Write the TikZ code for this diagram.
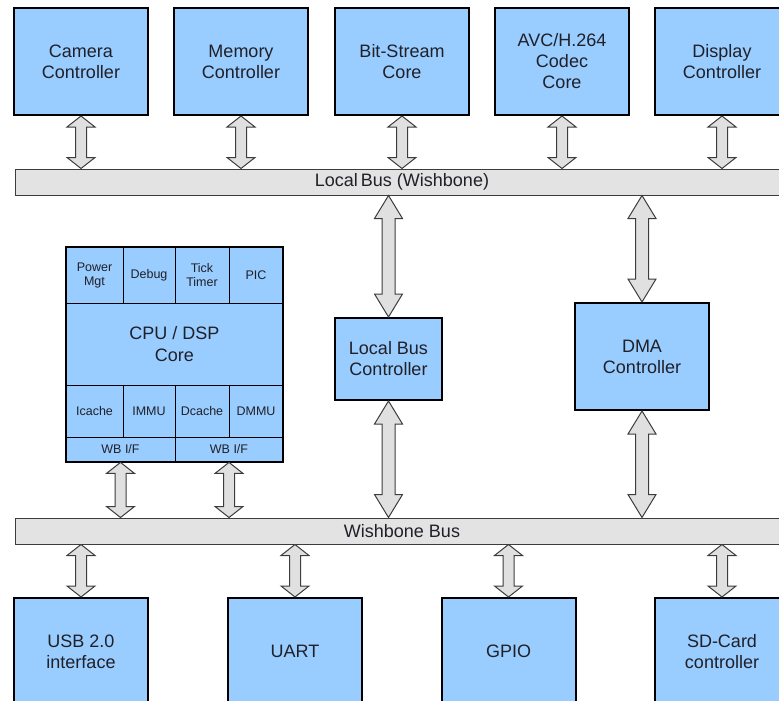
\documentclass[tikz,border=0pt]{standalone}
\usepackage{fontspec}
\setmainfont{Liberation Sans}
\usetikzlibrary{calc}
\definecolor{boxblue}{HTML}{99CCFF}
\definecolor{busgray}{HTML}{E3E3E3}
\definecolor{arrowgray}{HTML}{E0E0E0}
\definecolor{edgegray}{HTML}{3C3C3C}
\definecolor{txt}{HTML}{202028}
\tikzset{
  block/.style={draw=black, line width=2pt, fill=boxblue, inner sep=0pt,
    align=center, text=txt, font=\fontsize{18}{21}\selectfont},
  cell/.style={draw=black, line width=0.8pt, fill=boxblue, inner sep=0pt,
    align=center, text=txt, font=\fontsize{12.5}{14}\selectfont},
  corecell/.style={cell, font=\fontsize{18}{22}\selectfont},
  bus/.style={draw=edgegray, line width=1pt, fill=busgray, inner sep=0pt,
    text=txt, font=\fontsize{18}{20}\selectfont},
  busarrow/.style={draw=edgegray, line width=1pt, fill=arrowgray, line join=miter}
}
% wide double-headed bus arrow between two points (top first)
% #3 = head length, #4 = half width of the shaft
\newcommand\fatarrow[4]{%
  \draw[busarrow] let \p1=#1, \p2=#2 in
    (\x1,\y1) -- (\x1+14pt,\y1-#3pt) -- (\x1+#4pt,\y1-#3pt)
    -- (\x1+#4pt,\y2+#3pt) -- (\x1+14pt,\y2+#3pt) -- (\x1,\y2)
    -- (\x1-14pt,\y2+#3pt) -- (\x1-#4pt,\y2+#3pt)
    -- (\x1-#4pt,\y1-#3pt) -- (\x1-14pt,\y1-#3pt) -- cycle;}
\begin{document}
\begin{tikzpicture}[x=1pt,y=-1pt]
\useasboundingbox (0,0) rectangle (779,701);
\clip (0,0) rectangle (779,701);

% peripheral cores on the local bus
\node[block, minimum width=134pt, minimum height=107pt] (cam) at (81,61.5) {Camera\\Controller};
\node[block, minimum width=134pt, minimum height=107pt] (mem) at (241,61.5) {Memory\\Controller};
\node[block, minimum width=134pt, minimum height=107pt] (bsc) at (402,61.5) {Bit-Stream\\Core};
\node[block, minimum width=134pt, minimum height=107pt] (avc) at (562,61.5) {AVC/H.264\\Codec\\Core};
\node[block, minimum width=134pt, minimum height=107pt] (disp) at (722,61.5) {Display\\Controller};

% buses
\node[bus, minimum width=774pt, minimum height=26pt] (lbus) at (402,182) {Local\,Bus (Wishbone)};
\node[bus, minimum width=774pt, minimum height=26pt] (wbus) at (402,531) {Wishbone Bus};

% CPU block
\node[cell, minimum width=57pt, minimum height=56pt] (pm) at (94.5,275) {Power\\Mgt};
\node[cell, minimum width=52pt, minimum height=56pt] (dbg) at (149,275) {Debug};
\node[cell, minimum width=54pt, minimum height=56pt] (tick) at (202,275) {Tick\\Timer};
\node[cell, minimum width=54pt, minimum height=56pt] (pic) at (256,275) {PIC};
\node[corecell, minimum width=217pt, minimum height=82pt] (core) at (174.5,344) {CPU / DSP\\Core};
\node[cell, minimum width=57pt, minimum height=52pt] (ic) at (94.5,411) {Icache};
\node[cell, minimum width=52pt, minimum height=52pt] (immu) at (149,411) {IMMU};
\node[cell, minimum width=54pt, minimum height=52pt] (dc) at (202,411) {Dcache};
\node[cell, minimum width=54pt, minimum height=52pt] (dmmu) at (256,411) {DMMU};
\node[cell, minimum width=109pt, minimum height=25pt] (wbi) at (120.5,449.5) {WB I/F};
\node[cell, minimum width=108pt, minimum height=25pt] (wbd) at (229,449.5) {WB I/F};
\node[draw=black, line width=2pt, inner sep=0pt, minimum width=217pt, minimum height=215pt] (cpu) at (174.5,354.5) {};

% bridge and DMA
\node[block, minimum width=107pt, minimum height=82pt] (lbc) at (388.5,359) {Local Bus\\Controller};
\node[block, minimum width=134pt, minimum height=107pt] (dma) at (642,356.5) {DMA\\Controller};

% peripherals on the Wishbone bus
\node[block, minimum width=134pt, minimum height=107pt] (usb) at (81,651.5) {USB 2.0\\interface};
\node[block, minimum width=134pt, minimum height=107pt] (uart) at (295,651.5) {UART};
\node[block, minimum width=134pt, minimum height=107pt] (gpio) at (508.5,651.5) {GPIO};
\node[block, minimum width=134pt, minimum height=107pt] (sd) at (722,651.5) {SD-Card\\controller};

% local bus connections
\foreach \bx in {cam,mem,bsc,avc,disp}
  \fatarrow{(\bx.south)}{(\bx.south |- lbus.north)}{11}{5.5};
\fatarrow{(lbc.north |- lbus.south)}{(lbc.north)}{23}{6.5}
\fatarrow{(dma.north |- lbus.south)}{(dma.north)}{23}{6.5}

% Wishbone bus connections
\fatarrow{(lbc.south)}{(lbc.south |- wbus.north)}{23}{6.5}
\fatarrow{(dma.south)}{(dma.south |- wbus.north)}{23}{6.5}
\fatarrow{(wbi.south)}{(wbi.south |- wbus.north)}{11}{5.5}
\fatarrow{(wbd.south)}{(wbd.south |- wbus.north)}{11}{5.5}
\foreach \bx in {usb,uart,gpio,sd}
  \fatarrow{(\bx.north |- wbus.south)}{(\bx.north)}{11}{5.5};
\end{tikzpicture}
\end{document}
